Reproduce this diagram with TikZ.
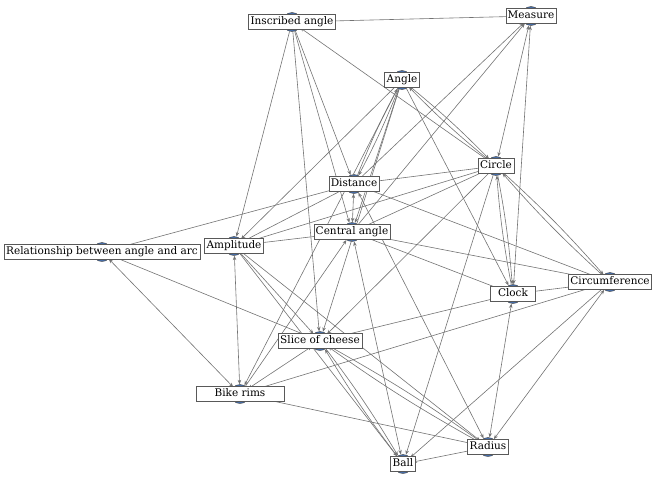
\documentclass[tikz,border=0pt]{standalone}
\usepackage{fontspec}
\setmainfont{DejaVu Serif}
\usetikzlibrary{arrows.meta}
\definecolor{dotblue}{RGB}{70,110,170}
\definecolor{wire}{RGB}{115,115,115}
\tikzset{
  dot/.style={circle, draw=black!75, fill=dotblue, minimum size=19pt, inner sep=0pt},
  lbl/.style={draw=black!65, fill=white, font=\fontsize{10.5}{12}\selectfont,
              inner xsep=2pt, inner ysep=2pt, text height=8pt, text depth=2.5pt},
  link/.style={-{Stealth[length=4.5pt,width=3.5pt]}, wire, line width=0.6pt},
  both/.style={{Stealth[length=4.5pt,width=3.5pt]}-{Stealth[length=4.5pt,width=3.5pt]},
               wire, line width=0.6pt},
  tie/.style={wire, line width=0.6pt}
}

\begin{document}
\begin{tikzpicture}[x=1pt, y=-1pt]
    \useasboundingbox (0,0) rectangle (663,482);
    % points
    \foreach \n/\x/\y in {ins/292/22, mea/531/16, ang/402/80, cir/496/166, dis/354/184,
                          cen/352/232, amp/234/246, rel/102/252, clo/513/294, cfc/610/282,
                          sli/320/341, bik/240/394, bal/403/464, rad/488/447}
      \node[dot] (\n) at (\x,\y) {};
    % one-way links
    \foreach \a/\b in {cir/ins, ins/amp, ins/sli, ins/cen, ins/dis, dis/mea, cen/mea,
                       ang/clo, ang/amp, ang/cen, ang/bik, ang/sli, cir/amp, cir/bal,
                       cir/sli, cir/cen, dis/amp, rel/dis, amp/bal, amp/rad, dis/cfc,
                       cen/clo, cen/cfc, bik/cen, sli/clo, bik/cfc, cfc/bal, bik/rad,
                       rad/bal, amp/sli}
      \draw[link] (\a) -- (\b);
    % two-way links
    \foreach \a/\b in {mea/cir, mea/clo, amp/bik, rel/sli, rel/bik, dis/cen, dis/rad,
                       cen/bal, clo/rad, cfc/rad, bik/sli}
      \draw[both] (\a) -- (\b);
    % doubled links
    \foreach \a/\b in {ang/cir, ang/dis, cir/clo, cir/cfc, sli/bal, sli/rad}
      {\draw[link] (\a) to[bend left=3] (\b);
       \draw[link] (\b) to[bend left=3] (\a);}
    % plain
    \draw[tie] (ins) -- (mea);
    \draw[tie] (cir) -- (dis);
    \draw[tie] (amp) -- (cen);
    \draw[tie] (clo) -- (cfc);
    % labels
    \foreach \n/\t in {ins/Inscribed angle, mea/Measure, ang/Angle, cir/Circle,
                       dis/Distance, cen/Central angle, amp/Amplitude,
                       rel/Relationship between angle and arc, cfc/Circumference,
                       sli/Slice of cheese, bal/Ball, rad/Radius}
      \node[lbl] (\n-l) at ([yshift=0.5pt]\n) {\t};
    \node[lbl, minimum width=45pt] (clo-l) at ([yshift=0.5pt]clo) {Clock};
    \node[lbl, minimum width=88pt] (bik-l) at ([yshift=0.5pt]bik) {Bike rims};
\end{tikzpicture}
\end{document}
